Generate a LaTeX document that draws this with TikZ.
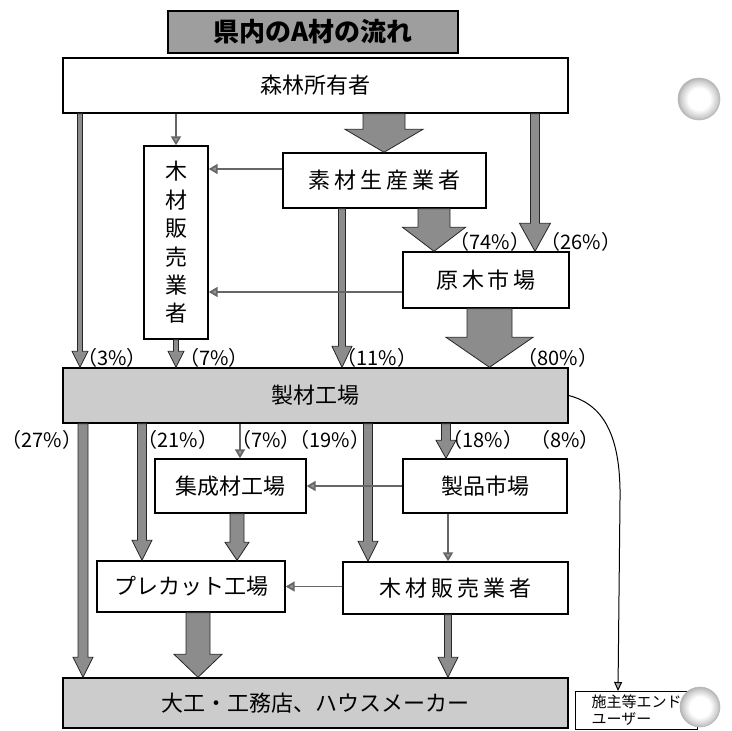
\documentclass[tikz,border=0pt]{standalone}
\usepackage{fontspec}
\setmainfont{Noto Sans CJK JP}
\usetikzlibrary{calc,arrows.meta}
\pgfdeclareradialshading{ringball}{\pgfpoint{0bp}{0bp}}{color(0bp)=(white); color(13bp)=(white); color(22bp)=(gray!40); color(25bp)=(gray!60); color(50bp)=(gray!60)}
\newcommand\blkarrow[6]{%
  \draw[blk] let \p1=(#1), \p2=(#2) in
    (#3pt-#4pt,\y1) -- (#3pt-#4pt,\y2+#6pt) -- (#3pt-#5pt,\y2+#6pt) -- (#3pt,\y2)
    -- (#3pt+#5pt,\y2+#6pt) -- (#3pt+#4pt,\y2+#6pt) -- (#3pt+#4pt,\y1) -- cycle;}
\begin{document}
\begin{tikzpicture}[x=1pt,y=-1pt,
  box/.style={draw=black, line width=1.4pt, fill=white, inner sep=0pt, font=\fontsize{22}{26}\selectfont},
  gbox/.style={box, fill=black!20},
  titlebox/.style={box, fill=black!38, font=\fontsize{26}{30}\selectfont\bfseries},
  thinarr/.style={draw=black!60, line width=1.8pt, -{Triangle[width=10pt,length=9pt,fill=black!40]}},
  curvearr/.style={draw=black, line width=1pt, -{Triangle[width=8pt,length=9pt,fill=black!35]}},
  blk/.style={draw=black!85, line width=0.8pt, fill=black!45},
  pct/.style={font=\fontsize{20}{22}\selectfont, inner sep=0pt},
  ball/.style={shading=ringball}]
\useasboundingbox (0,0) rectangle (732,731);

% boxes
\node[titlebox, minimum width=290pt, minimum height=42pt] (title) at (313,32) {県内のA材の流れ};
\node[box, minimum width=505pt, minimum height=55pt] (owner) at (315.5,85.5) {森林所有者};
\node[box, minimum width=64pt, minimum height=193pt, align=center, font=\fontsize{22}{28.4}\selectfont] (hanbai1) at (176,242.5) {木\\材\\販\\売\\業\\者};
\node[box, minimum width=203pt, minimum height=55pt, font=\fontsize{22}{26}\selectfont\addfontfeatures{LetterSpace=18}] (sozai) at (384.5,180.5) {素材生産業者};
\node[box, minimum width=166pt, minimum height=56pt, font=\fontsize{22}{26}\selectfont\addfontfeatures{LetterSpace=18}] (genboku) at (486,280) {原木市場};
\node[gbox, minimum width=505pt, minimum height=55pt] (seizai) at (315.5,395.5) {製材工場};
\node[box, minimum width=151pt, minimum height=54pt] (shusei) at (230.5,486) {集成材工場};
\node[box, minimum width=164pt, minimum height=54pt] (seihin) at (485,486) {製品市場};
\node[box, minimum width=188pt, minimum height=51pt] (precut) at (191,586.5) {プレカット工場};
\node[box, minimum width=225pt, minimum height=52pt, font=\fontsize{22}{26}\selectfont\addfontfeatures{LetterSpace=18}] (hanbai2) at (455.5,588) {木材販売業者};
\node[gbox, minimum width=505pt, minimum height=50pt] (daiku) at (315.5,703) {大工・工務店、ハウスメーカー};
\node[draw=black, line width=1.2pt, fill=white, minimum width=122pt, minimum height=38pt, inner sep=2pt,
      align=left, anchor=north west, font=\fontsize{15}{17}\selectfont] (sesyu) at (575,691) {施主等エンド\\ユーザー};

% coordinates for connector positions
\coordinate (yA) at (0,169);
\coordinate (yB) at (0,292);
\coordinate (x240) at (240,0);
\coordinate (x448) at (448,0);
\coordinate (x618) at (618,0);

% block arrows
\blkarrow{owner.south}{sozai.north}{384}{21}{39}{23}
\blkarrow{sozai.south}{genboku.north}{434}{16}{31.5}{24}
\blkarrow{owner.south}{genboku.north}{535}{4.5}{15.5}{28}
\blkarrow{genboku.south}{seizai.north}{489.5}{22.5}{43.5}{30}
\blkarrow{owner.south}{seizai.north}{80}{2.5}{8}{16}
\blkarrow{hanbai1.south}{seizai.north}{176}{2.5}{8}{16}
\blkarrow{sozai.south}{seizai.north}{342}{3.5}{10}{21}
\blkarrow{seizai.south}{daiku.north}{83}{5}{10}{20}
\blkarrow{seizai.south}{precut.north}{142}{4.5}{10}{20}
\blkarrow{seizai.south}{hanbai2.north}{368}{4.5}{10}{20}
\blkarrow{seizai.south}{seihin.north}{446}{4.5}{10}{18}
\blkarrow{shusei.south}{precut.north}{237}{7}{12}{18}
\blkarrow{precut.south}{daiku.north}{198}{12}{24}{23}
\blkarrow{hanbai2.south}{daiku.north}{448}{3.5}{10}{20}

% thin arrows
\draw[thinarr] (owner.south -| hanbai1.north) -- (hanbai1.north);
\draw[thinarr] (sozai.west |- yA) -- (hanbai1.east |- yA);
\draw[thinarr] (genboku.west |- yB) -- (hanbai1.east |- yB);
\draw[thinarr] (seizai.south -| x240) -- (shusei.north -| x240);
\draw[thinarr] (seihin.west) -- (shusei.east);
\draw[thinarr] (seihin.south -| x448) -- (hanbai2.north -| x448);
\draw[thinarr] (hanbai2.west |- precut.east) -- (precut.east);
\draw[curvearr] (seizai.east) .. controls (606,405) and (621,440) .. (620,500) -- (sesyu.north -| x618);

% percentages
\node[pct] (p74) at (490,242) {（74\%）};
\node[pct] (p26) at (581,242) {（26\%）};
\node[pct] (p3) at (112,358) {（3\%）};
\node[pct] (p7a) at (214,358) {（7\%）};
\node[pct] (p11) at (377,358) {（11\%）};
\node[pct] (p80) at (558,358) {（80\%）};
\node[pct] (p27) at (42,440) {（27\%）};
\node[pct] (p21) at (178,440) {（21\%）};
\node[pct] (p7b) at (266,440) {（7\%）};
\node[pct] (p19) at (330,440) {（19\%）};
\node[pct] (p18) at (483,440) {（18\%）};
\node[pct] (p8) at (565,440) {（8\%）};

% decorative circles
\shade[ball] (699,99) circle (21);
\draw[gray!55, line width=0.6pt] (699,99) circle (21);
\shade[ball] (700,707) circle (20);
\draw[gray!55, line width=0.6pt] (700,707) circle (20);
\end{tikzpicture}
\end{document}
